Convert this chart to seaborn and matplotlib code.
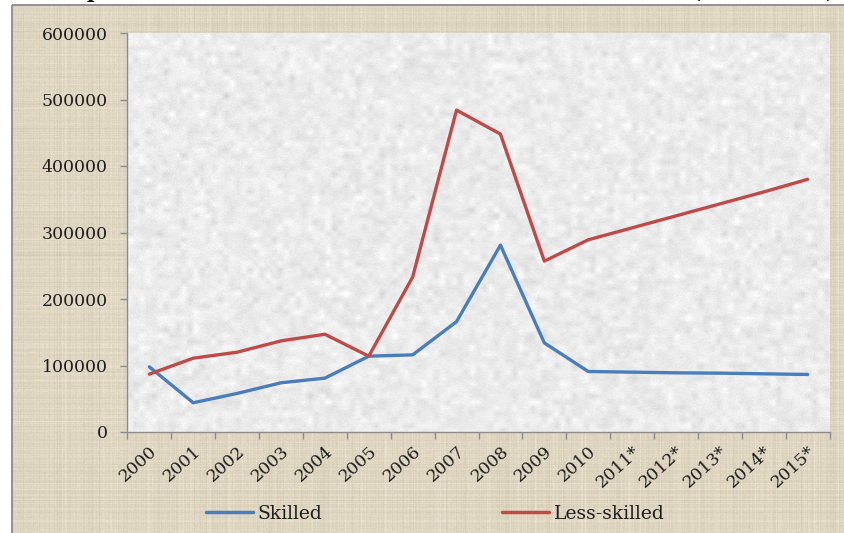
import numpy as np
import pandas as pd
import matplotlib
matplotlib.use("Agg")
import matplotlib.pyplot as plt
from matplotlib.patches import Rectangle
from matplotlib.lines import Line2D
import seaborn as sns

# ---- data -------------------------------------------------------------
years = ["2000", "2001", "2002", "2003", "2004", "2005", "2006", "2007",
         "2008", "2009", "2010", "2011*", "2012*", "2013*", "2014*", "2015*"]
skilled = [98000, 44000, 58000, 74000, 81000, 114000, 116000, 166000,
           281000, 134000, 91000, 90000, 89000, 88500, 87500, 86500]
less_skilled = [87000, 111000, 120000, 137000, 147000, 114000, 233000, 484000,
                448000, 257000, 289000, 307000, 325000, 343000, 361000, 380000]
series_names = ["Skilled", "Less-skilled"]
y_ticks = [0, 100000, 200000, 300000, 400000, 500000, 600000]
title_text = "Figure 4: Expected Outflow of Skilled and Less-skilled Workers (2000-2015)"

df = pd.DataFrame({
    "pos": list(range(len(years))) * 2,
    "value": skilled + less_skilled,
    "group": [series_names[0]] * len(years) + [series_names[1]] * len(years),
})

# ---- style ------------------------------------------------------------
sns.set_style("ticks")
plt.rcParams["font.family"] = ["DejaVu Serif"]
palette = {"Skilled": "#4A7EBB", "Less-skilled": "#BE4B48"}
axis_grey = "#8C8C8C"
text_col = "#1E1E1E"

W, H = 844, 533
fig = plt.figure(figsize=(W / 100, H / 100), dpi=100, facecolor="white")

# background canvas in pixel coordinates
bg = fig.add_axes([0, 0, 1, 1])
bg.set_xlim(0, W)
bg.set_ylim(H, 0)
bg.axis("off")

rng = np.random.default_rng(7)

# woven tan chart-area fill
th, tw = 528, 832
rows = rng.normal(0, 3.0, (th, 1))
cols = rng.normal(0, 3.0, (1, tw))
fine = rng.normal(0, 2.2, (th, tw))
tan = np.array([224, 215, 195], dtype=float)
weave = rows + cols + fine
tan_img = np.clip(tan[None, None, :] + weave[..., None] * np.array([1.0, 1.0, 1.1]), 0, 255) / 255
bg.imshow(tan_img, extent=(12, 844, 533, 5), aspect="auto", interpolation="bilinear", zorder=0)
bg.add_patch(Rectangle((12, 5), 860, 560, fill=False, edgecolor="#8A8A8A", lw=1.3, zorder=1))

# plot area geometry
px_l, px_r, px_t, px_b = 127.4, 829.6, 33.0, 432.0

# mottled grey plot-area fill
gh, gw = int(px_b - px_t), int(px_r - px_l)
coarse = rng.normal(0, 1, (gh // 6 + 2, gw // 6 + 2))
coarse = np.kron(coarse, np.ones((6, 6)))[:gh, :gw]
k = np.ones(5) / 5
coarse = np.apply_along_axis(lambda r: np.convolve(r, k, mode="same"), 1, coarse)
coarse = np.apply_along_axis(lambda c: np.convolve(c, k, mode="same"), 0, coarse)
speck = rng.normal(0, 3.0, (gh, gw))
grey = 236 + coarse * 6 + speck
grey_img = np.clip(np.repeat(grey[..., None], 3, axis=2), 0, 255) / 255
bg.imshow(grey_img, extent=(px_l, px_r, px_b, px_t), aspect="auto", interpolation="bilinear", zorder=2)

# title (runs off the top edge of the canvas)
fig.text(836 / W, 1.0 + 1.5 / H, title_text, ha="right", va="baseline",
         fontsize=15, fontweight="bold", color="black")

# ---- main axes --------------------------------------------------------
ax = fig.add_axes([px_l / W, 1 - px_b / H, (px_r - px_l) / W, (px_b - px_t) / H])
ax.patch.set_alpha(0)

sns.lineplot(data=df, x="pos", y="value", hue="group", palette=palette,
             hue_order=series_names, linewidth=2.4, legend=False, ax=ax)

ax.set_xlim(-0.5, len(years) - 0.5)
ax.set_ylim(y_ticks[0], y_ticks[-1])
ax.set_xlabel("")
ax.set_ylabel("")

ax.set_yticks(y_ticks)
ax.set_yticklabels([str(v) for v in y_ticks])
ax.tick_params(axis="y", direction="out", length=5, width=1, color=axis_grey,
               labelsize=12.5, labelcolor=text_col, pad=9)

ax.set_xticks(range(len(years)))
ax.set_xticklabels(years, rotation=42, ha="right", va="top", rotation_mode="anchor")
ax.set_xticks(np.arange(-0.5, len(years), 1.0), minor=True)
ax.tick_params(axis="x", which="major", length=0, labelsize=12.5, labelcolor=text_col, pad=8)
ax.tick_params(axis="x", which="minor", direction="out", length=5, width=1, color=axis_grey)

for side in ("top", "right"):
    ax.spines[side].set_visible(False)
for side in ("left", "bottom"):
    ax.spines[side].set_color(axis_grey)
    ax.spines[side].set_linewidth(1)

# legend along the bottom
handles = [Line2D([0], [0], color=palette[n], lw=2.5) for n in series_names]
fig.legend(handles, series_names, loc="center left",
           bbox_to_anchor=(206 / W, 1 - 514 / H), ncol=2, frameon=False,
           fontsize=13.5, handlelength=2.5, handletextpad=0.25, columnspacing=9.6,
           borderpad=0, borderaxespad=0, labelcolor=text_col)

fig.savefig("out.png", dpi=100, facecolor="white")
